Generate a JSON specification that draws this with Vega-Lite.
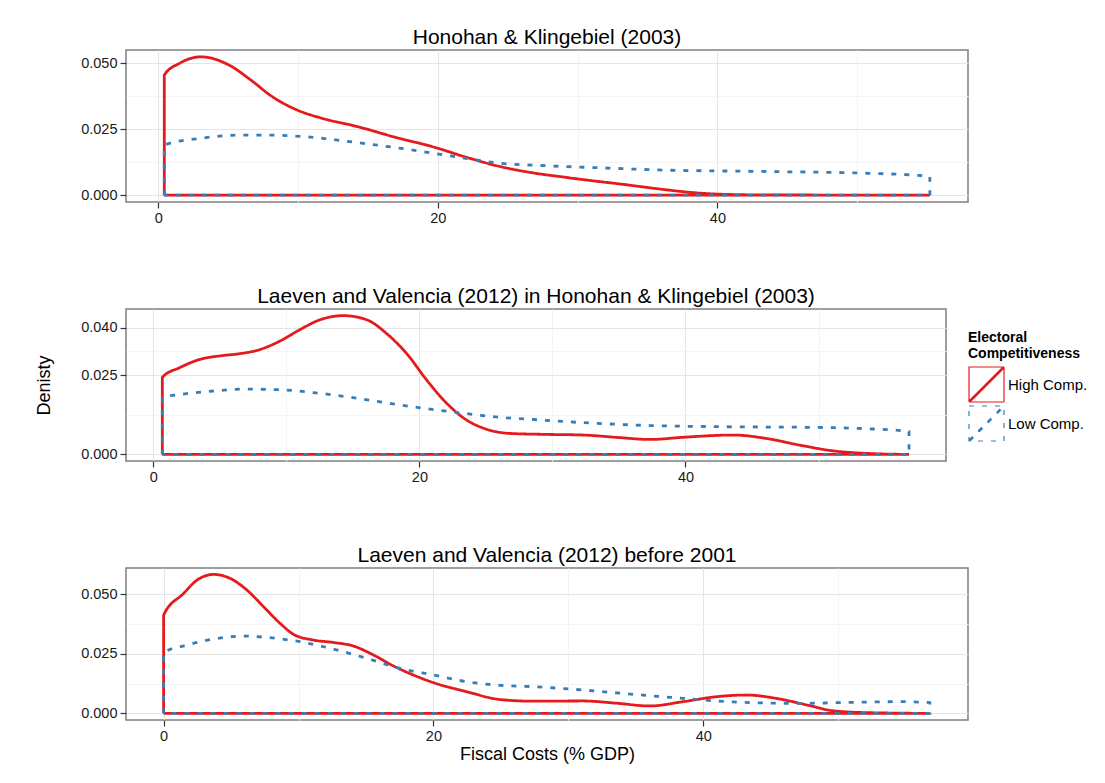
{
  "$schema": "https://vega.github.io/schema/vega-lite/v6.json",
  "background": "white",
  "padding": {"left": 34, "top": 26, "right": 10, "bottom": 10},
  "spacing": 107,
  "bounds": "flush",
  "datasets": {
    "p1": [
      {"grp": "High Comp.", "x": 0.43, "y": 0},
      {"grp": "High Comp.", "x": 0.43, "y": 0.0456},
      {"grp": "High Comp.", "x": 1.5, "y": 0.0500},
      {"grp": "High Comp.", "x": 3.05, "y": 0.0525},
      {"grp": "High Comp.", "x": 5.09, "y": 0.0493},
      {"grp": "High Comp.", "x": 6.62, "y": 0.0437},
      {"grp": "High Comp.", "x": 8.15, "y": 0.0374},
      {"grp": "High Comp.", "x": 9.94, "y": 0.0323},
      {"grp": "High Comp.", "x": 11.7, "y": 0.0292},
      {"grp": "High Comp.", "x": 14.27, "y": 0.0260},
      {"grp": "High Comp.", "x": 16.8, "y": 0.0222},
      {"grp": "High Comp.", "x": 20.0, "y": 0.0178},
      {"grp": "High Comp.", "x": 21.9, "y": 0.0146},
      {"grp": "High Comp.", "x": 24.5, "y": 0.0108},
      {"grp": "High Comp.", "x": 27.0, "y": 0.0083},
      {"grp": "High Comp.", "x": 28.8, "y": 0.0070},
      {"grp": "High Comp.", "x": 31.0, "y": 0.0055},
      {"grp": "High Comp.", "x": 33.1, "y": 0.0042},
      {"grp": "High Comp.", "x": 35.6, "y": 0.0025},
      {"grp": "High Comp.", "x": 38.2, "y": 0.0010},
      {"grp": "High Comp.", "x": 40.0, "y": 0.0004},
      {"grp": "High Comp.", "x": 43.0, "y": 0.0001},
      {"grp": "High Comp.", "x": 55.2, "y": 0},
      {"grp": "High Comp.", "x": 0.43, "y": 0},
      {"grp": "Low Comp.", "x": 0.43, "y": 0},
      {"grp": "Low Comp.", "x": 0.43, "y": 0.0190},
      {"grp": "Low Comp.", "x": 3.05, "y": 0.0216},
      {"grp": "Low Comp.", "x": 6.1, "y": 0.0228},
      {"grp": "Low Comp.", "x": 8.15, "y": 0.0228},
      {"grp": "Low Comp.", "x": 10.45, "y": 0.0222},
      {"grp": "Low Comp.", "x": 14.3, "y": 0.0199},
      {"grp": "Low Comp.", "x": 18.1, "y": 0.0172},
      {"grp": "Low Comp.", "x": 20.9, "y": 0.0149},
      {"grp": "Low Comp.", "x": 24.5, "y": 0.0121},
      {"grp": "Low Comp.", "x": 28.05, "y": 0.0111},
      {"grp": "Low Comp.", "x": 31.5, "y": 0.0104},
      {"grp": "Low Comp.", "x": 35.6, "y": 0.0096},
      {"grp": "Low Comp.", "x": 43.2, "y": 0.0090},
      {"grp": "Low Comp.", "x": 50.8, "y": 0.0083},
      {"grp": "Low Comp.", "x": 54.85, "y": 0.0073},
      {"grp": "Low Comp.", "x": 55.2, "y": 0.0070},
      {"grp": "Low Comp.", "x": 55.2, "y": 0},
      {"grp": "Low Comp.", "x": 0.43, "y": 0}
    ],
    "p2": [
      {"grp": "High Comp.", "x": 0.68, "y": 0},
      {"grp": "High Comp.", "x": 0.68, "y": 0.0243},
      {"grp": "High Comp.", "x": 2.0, "y": 0.0274},
      {"grp": "High Comp.", "x": 3.51, "y": 0.0300},
      {"grp": "High Comp.", "x": 5.01, "y": 0.0311},
      {"grp": "High Comp.", "x": 6.52, "y": 0.0318},
      {"grp": "High Comp.", "x": 8.02, "y": 0.0331},
      {"grp": "High Comp.", "x": 9.53, "y": 0.0358},
      {"grp": "High Comp.", "x": 11.03, "y": 0.0394},
      {"grp": "High Comp.", "x": 12.53, "y": 0.0425},
      {"grp": "High Comp.", "x": 14.29, "y": 0.0438},
      {"grp": "High Comp.", "x": 16.04, "y": 0.0425},
      {"grp": "High Comp.", "x": 17.55, "y": 0.0381},
      {"grp": "High Comp.", "x": 19.05, "y": 0.0318},
      {"grp": "High Comp.", "x": 20.56, "y": 0.0234},
      {"grp": "High Comp.", "x": 22.06, "y": 0.0161},
      {"grp": "High Comp.", "x": 23.56, "y": 0.0108},
      {"grp": "High Comp.", "x": 25.07, "y": 0.0079},
      {"grp": "High Comp.", "x": 26.82, "y": 0.0066},
      {"grp": "High Comp.", "x": 29.58, "y": 0.0063},
      {"grp": "High Comp.", "x": 32.33, "y": 0.0061},
      {"grp": "High Comp.", "x": 35.0, "y": 0.0053},
      {"grp": "High Comp.", "x": 37.35, "y": 0.0047},
      {"grp": "High Comp.", "x": 39.85, "y": 0.0054},
      {"grp": "High Comp.", "x": 43.6, "y": 0.0061},
      {"grp": "High Comp.", "x": 46.1, "y": 0.0050},
      {"grp": "High Comp.", "x": 48.6, "y": 0.0029},
      {"grp": "High Comp.", "x": 51.1, "y": 0.0011},
      {"grp": "High Comp.", "x": 53.6, "y": 0.0003},
      {"grp": "High Comp.", "x": 56.8, "y": 0},
      {"grp": "High Comp.", "x": 0.68, "y": 0},
      {"grp": "Low Comp.", "x": 0.68, "y": 0},
      {"grp": "Low Comp.", "x": 0.68, "y": 0.0180},
      {"grp": "Low Comp.", "x": 2.0, "y": 0.0189},
      {"grp": "Low Comp.", "x": 4.51, "y": 0.0200},
      {"grp": "Low Comp.", "x": 6.77, "y": 0.0206},
      {"grp": "Low Comp.", "x": 9.53, "y": 0.0204},
      {"grp": "Low Comp.", "x": 12.03, "y": 0.0195},
      {"grp": "Low Comp.", "x": 14.54, "y": 0.0182},
      {"grp": "Low Comp.", "x": 17.29, "y": 0.0164},
      {"grp": "Low Comp.", "x": 20.05, "y": 0.0147},
      {"grp": "Low Comp.", "x": 23.06, "y": 0.0131},
      {"grp": "Low Comp.", "x": 26.07, "y": 0.0117},
      {"grp": "Low Comp.", "x": 28.57, "y": 0.0110},
      {"grp": "Low Comp.", "x": 32.33, "y": 0.0100},
      {"grp": "Low Comp.", "x": 37.35, "y": 0.0091},
      {"grp": "Low Comp.", "x": 43.6, "y": 0.0087},
      {"grp": "Low Comp.", "x": 49.88, "y": 0.0085},
      {"grp": "Low Comp.", "x": 53.6, "y": 0.0081},
      {"grp": "Low Comp.", "x": 56.4, "y": 0.0074},
      {"grp": "Low Comp.", "x": 56.8, "y": 0.0072},
      {"grp": "Low Comp.", "x": 56.8, "y": 0},
      {"grp": "Low Comp.", "x": 0.68, "y": 0}
    ],
    "p3": [
      {"grp": "High Comp.", "x": 0, "y": 0},
      {"grp": "High Comp.", "x": 0, "y": 0.0413},
      {"grp": "High Comp.", "x": 1.48, "y": 0.0504},
      {"grp": "High Comp.", "x": 2.47, "y": 0.0560},
      {"grp": "High Comp.", "x": 3.70, "y": 0.0584},
      {"grp": "High Comp.", "x": 4.94, "y": 0.0567},
      {"grp": "High Comp.", "x": 6.18, "y": 0.0518},
      {"grp": "High Comp.", "x": 7.41, "y": 0.0448},
      {"grp": "High Comp.", "x": 8.64, "y": 0.0378},
      {"grp": "High Comp.", "x": 9.63, "y": 0.0332},
      {"grp": "High Comp.", "x": 11.11, "y": 0.0308},
      {"grp": "High Comp.", "x": 12.59, "y": 0.0298},
      {"grp": "High Comp.", "x": 14.07, "y": 0.0283},
      {"grp": "High Comp.", "x": 15.56, "y": 0.0245},
      {"grp": "High Comp.", "x": 17.04, "y": 0.0199},
      {"grp": "High Comp.", "x": 18.52, "y": 0.0161},
      {"grp": "High Comp.", "x": 20.0, "y": 0.0129},
      {"grp": "High Comp.", "x": 22.47, "y": 0.0091},
      {"grp": "High Comp.", "x": 24.94, "y": 0.0058},
      {"grp": "High Comp.", "x": 27.4, "y": 0.0051},
      {"grp": "High Comp.", "x": 31.1, "y": 0.0052},
      {"grp": "High Comp.", "x": 33.5, "y": 0.0043},
      {"grp": "High Comp.", "x": 36.05, "y": 0.0031},
      {"grp": "High Comp.", "x": 38.5, "y": 0.0049},
      {"grp": "High Comp.", "x": 41.0, "y": 0.0070},
      {"grp": "High Comp.", "x": 43.2, "y": 0.0077},
      {"grp": "High Comp.", "x": 45.4, "y": 0.0063},
      {"grp": "High Comp.", "x": 47.7, "y": 0.0035},
      {"grp": "High Comp.", "x": 49.6, "y": 0.0011},
      {"grp": "High Comp.", "x": 52.1, "y": 0.0003},
      {"grp": "High Comp.", "x": 56.8, "y": 0},
      {"grp": "High Comp.", "x": 0, "y": 0},
      {"grp": "Low Comp.", "x": 0, "y": 0},
      {"grp": "Low Comp.", "x": 0, "y": 0.0255},
      {"grp": "Low Comp.", "x": 1.73, "y": 0.0287},
      {"grp": "Low Comp.", "x": 3.70, "y": 0.0312},
      {"grp": "Low Comp.", "x": 5.93, "y": 0.0325},
      {"grp": "Low Comp.", "x": 7.66, "y": 0.0319},
      {"grp": "Low Comp.", "x": 10.13, "y": 0.0301},
      {"grp": "Low Comp.", "x": 12.59, "y": 0.0270},
      {"grp": "Low Comp.", "x": 15.07, "y": 0.0231},
      {"grp": "Low Comp.", "x": 17.53, "y": 0.0189},
      {"grp": "Low Comp.", "x": 20.0, "y": 0.0161},
      {"grp": "Low Comp.", "x": 22.47, "y": 0.0133},
      {"grp": "Low Comp.", "x": 24.94, "y": 0.0118},
      {"grp": "Low Comp.", "x": 27.4, "y": 0.0112},
      {"grp": "Low Comp.", "x": 31.1, "y": 0.0098},
      {"grp": "Low Comp.", "x": 34.8, "y": 0.0080},
      {"grp": "Low Comp.", "x": 38.5, "y": 0.0063},
      {"grp": "Low Comp.", "x": 41.0, "y": 0.0052},
      {"grp": "Low Comp.", "x": 43.5, "y": 0.0045},
      {"grp": "Low Comp.", "x": 47.2, "y": 0.0042},
      {"grp": "Low Comp.", "x": 50.9, "y": 0.0046},
      {"grp": "Low Comp.", "x": 54.6, "y": 0.0049},
      {"grp": "Low Comp.", "x": 56.5, "y": 0.0046},
      {"grp": "Low Comp.", "x": 56.8, "y": 0.0045},
      {"grp": "Low Comp.", "x": 56.8, "y": 0},
      {"grp": "Low Comp.", "x": 0, "y": 0}
    ]
  },
  "resolve": {
    "scale": {"color": "independent", "strokeDash": "independent"},
    "legend": {"color": "independent", "strokeDash": "independent"}
  },
  "vconcat": [
    {
      "title": "Honohan & Klingebiel (2003)",
      "width": 842,
      "height": 152,
      "data": {"name": "p1"},
      "mark": {"type": "line", "strokeWidth": 2.8, "strokeCap": "butt", "interpolate": "monotone"},
      "encoding": {
        "x": {"field": "x", "type": "quantitative",
          "scale": {"domain": [-2.31, 57.93], "nice": false, "zero": false},
          "axis": {"values": [0, 10, 20, 30, 40, 50], "title": null, "format": "d",
            "labelExpr": "datum.value % 20 === 0 ? datum.label : ''",
            "tickOpacity": {"condition": {"test": "datum.value % 20 === 0", "value": 1}, "value": 0},
            "gridColor": {"condition": {"test": "datum.value % 20 === 0", "value": "#e5e5e5"}, "value": "#f4f4f4"}}},
        "y": {"field": "y", "type": "quantitative",
          "scale": {"domain": [-0.0026, 0.0551], "nice": false, "zero": false},
          "axis": {"values": [0, 0.0125, 0.025, 0.0375, 0.05], "title": null, "format": ".3f",
            "labelExpr": "(datum.value === 0 || datum.value === 0.025 || datum.value === 0.05) ? datum.label : ''",
            "tickOpacity": {"condition": {"test": "datum.value === 0 || datum.value === 0.025 || datum.value === 0.05", "value": 1}, "value": 0},
            "gridColor": {"condition": {"test": "datum.value === 0 || datum.value === 0.025 || datum.value === 0.05", "value": "#e5e5e5"}, "value": "#f4f4f4"}}},
        "color": {"field": "grp", "type": "nominal",
          "scale": {"domain": ["High Comp.", "Low Comp."], "range": ["#E41A1C", "#377EB8"]}, "legend": null},
        "strokeDash": {"field": "grp", "type": "nominal",
          "scale": {"domain": ["High Comp.", "Low Comp."], "range": [[1, 0], [5, 8]]}, "legend": null},
        "order": {"value": null}
      }
    },
    {
      "title": "Laeven and Valencia (2012) in Honohan & Klingebiel (2003)",
      "width": 820,
      "height": 152,
      "data": {"name": "p2"},
      "mark": {"type": "line", "strokeWidth": 2.8, "strokeCap": "butt", "interpolate": "monotone"},
      "encoding": {
        "x": {"field": "x", "type": "quantitative",
          "scale": {"domain": [-2.05, 59.58], "nice": false, "zero": false},
          "axis": {"values": [0, 10, 20, 30, 40, 50], "title": null, "format": "d",
            "labelExpr": "datum.value % 20 === 0 ? datum.label : ''",
            "tickOpacity": {"condition": {"test": "datum.value % 20 === 0", "value": 1}, "value": 0},
            "gridColor": {"condition": {"test": "datum.value % 20 === 0", "value": "#e5e5e5"}, "value": "#f4f4f4"}}},
        "y": {"field": "y", "type": "quantitative",
          "scale": {"domain": [-0.0021, 0.0459], "nice": false, "zero": false},
          "axis": {"values": [0, 0.0125, 0.025, 0.0325, 0.04], "title": "Denisty", "titlePadding": 27, "format": ".3f",
            "labelExpr": "(datum.value === 0 || datum.value === 0.025 || datum.value === 0.04) ? datum.label : ''",
            "tickOpacity": {"condition": {"test": "datum.value === 0 || datum.value === 0.025 || datum.value === 0.04", "value": 1}, "value": 0},
            "gridColor": {"condition": {"test": "datum.value === 0 || datum.value === 0.025 || datum.value === 0.04", "value": "#e5e5e5"}, "value": "#f4f4f4"}}},
        "color": {"field": "grp", "type": "nominal",
          "scale": {"domain": ["High Comp.", "Low Comp."], "range": ["#E41A1C", "#377EB8"]},
          "legend": {"title": ["Electoral", "Competitiveness"], "orient": "right", "offset": 0, "padding": 22}},
        "strokeDash": {"field": "grp", "type": "nominal",
          "scale": {"domain": ["High Comp.", "Low Comp."], "range": [[1, 0], [5, 8]]},
          "legend": {"title": ["Electoral", "Competitiveness"], "orient": "right", "offset": 0, "padding": 22}},
        "order": {"value": null}
      }
    },
    {
      "title": "Laeven and Valencia (2012) before 2001",
      "width": 842,
      "height": 152,
      "data": {"name": "p3"},
      "mark": {"type": "line", "strokeWidth": 2.8, "strokeCap": "butt", "interpolate": "monotone"},
      "encoding": {
        "x": {"field": "x", "type": "quantitative",
          "scale": {"domain": [-2.79, 59.63], "nice": false, "zero": false},
          "axis": {"values": [0, 10, 20, 30, 40, 50], "title": "Fiscal Costs (% GDP)", "titlePadding": 3, "format": "d",
            "labelExpr": "datum.value % 20 === 0 ? datum.label : ''",
            "tickOpacity": {"condition": {"test": "datum.value % 20 === 0", "value": 1}, "value": 0},
            "gridColor": {"condition": {"test": "datum.value % 20 === 0", "value": "#e5e5e5"}, "value": "#f4f4f4"}}},
        "y": {"field": "y", "type": "quantitative",
          "scale": {"domain": [-0.0028, 0.0611], "nice": false, "zero": false},
          "axis": {"values": [0, 0.0125, 0.025, 0.0375, 0.05], "title": null, "format": ".3f",
            "labelExpr": "(datum.value === 0 || datum.value === 0.025 || datum.value === 0.05) ? datum.label : ''",
            "tickOpacity": {"condition": {"test": "datum.value === 0 || datum.value === 0.025 || datum.value === 0.05", "value": 1}, "value": 0},
            "gridColor": {"condition": {"test": "datum.value === 0 || datum.value === 0.025 || datum.value === 0.05", "value": "#e5e5e5"}, "value": "#f4f4f4"}}},
        "color": {"field": "grp", "type": "nominal",
          "scale": {"domain": ["High Comp.", "Low Comp."], "range": ["#E41A1C", "#377EB8"]}, "legend": null},
        "strokeDash": {"field": "grp", "type": "nominal",
          "scale": {"domain": ["High Comp.", "Low Comp."], "range": [[1, 0], [5, 8]]}, "legend": null},
        "order": {"value": null}
      }
    }
  ],
  "config": {
    "font": "Liberation Sans",
    "view": {"stroke": "#7f7f7f", "strokeWidth": 1.5},
    "axis": {
      "domain": false,
      "tickColor": "#333333",
      "tickSize": 6,
      "tickWidth": 1.2,
      "labelFontSize": 14.5,
      "labelColor": "#1a1a1a",
      "labelPadding": 3,
      "titleFontSize": 18,
      "titleFontWeight": "normal",
      "titleColor": "#000000",
      "gridWidth": 1
    },
    "title": {"fontSize": 21, "fontWeight": "normal", "color": "#000000", "anchor": "middle", "baseline": "alphabetic", "offset": 2},
    "legend": {
      "symbolType": "M-1,-1H1V1H-1Z M-1,1L1,-1 M-0.94,1L1,-0.94 M-1,0.94L0.94,-1",
      "symbolSize": 1225,
      "symbolStrokeWidth": 1.2,
      "symbolFillColor": "transparent",
      "rowPadding": -11,
      "labelFontSize": 15,
      "labelColor": "#000000",
      "labelOffset": 3,
      "titleFontSize": 14,
      "titleFontWeight": "bold",
      "titleColor": "#000000",
      "titleLineHeight": 16,
      "titlePadding": 5
    }
  }
}
